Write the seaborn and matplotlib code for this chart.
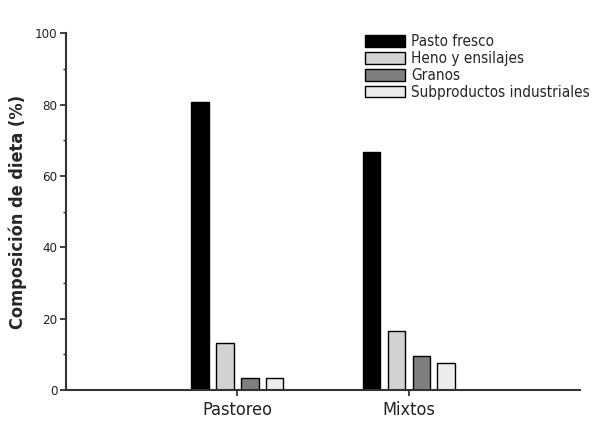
import matplotlib
matplotlib.use("Agg")
import matplotlib.pyplot as plt
import seaborn as sns
import pandas as pd

# datos
sistemas = ["Pastoreo", "Mixtos"]
componentes = ["Pasto fresco", "Heno y ensilajes", "Granos", "Subproductos industriales"]
pasto_fresco = [80.8, 66.6]
heno = [13.2, 16.7]
granos = [3.3, 9.7]
subproductos = [3.3, 7.7]
colores = ["#000000", "#d2d2d2", "#7f7f7f", "#ececec"]

df = pd.DataFrame({
    "sistema": sistemas * 4,
    "componente": [c for c in componentes for _ in sistemas],
    "valor": pasto_fresco + heno + granos + subproductos,
})

sns.set_style("ticks")
plt.rcParams["font.family"] = ["DejaVu Sans"]
plt.rcParams["font.stretch"] = "condensed"

fig = plt.figure(figsize=(6, 4.25), dpi=100)
ax = fig.add_axes([0.11, 0.082, 0.857, 0.84])

sns.barplot(data=df, x="sistema", y="valor", hue="componente",
            hue_order=componentes, palette=colores, width=0.58, gap=0.3,
            edgecolor="black", linewidth=1, ax=ax)

ax.set_xlim(-1, 2)
ax.set_ylim(0, 100)
ax.set_yticks([0, 20, 40, 60, 80, 100])
ax.set_yticks([10, 30, 50, 70, 90], minor=True)
ax.tick_params(axis="both", direction="out", width=1.2, colors="#222222", labelsize=9.5)
ax.tick_params(axis="y", which="major", length=4, pad=2)
ax.tick_params(axis="y", which="minor", length=2, width=1)
ax.tick_params(axis="x", length=4, labelsize=13, pad=4)
for s in ["top", "right"]:
    ax.spines[s].set_visible(False)
for s in ["left", "bottom"]:
    ax.spines[s].set_linewidth(1.5)
    ax.spines[s].set_color("#333333")

ax.set_xlabel("")
ax.set_ylabel("Composición de dieta (%)", fontsize=13, fontweight="bold", labelpad=6)

ax.legend(loc="upper right", bbox_to_anchor=(1.045, 1.035), frameon=False, fontsize=11,
          handlelength=2.6, handleheight=0.8, labelspacing=0.12, handletextpad=0.4,
          title=None)

fig.savefig("out.png", dpi=100)
